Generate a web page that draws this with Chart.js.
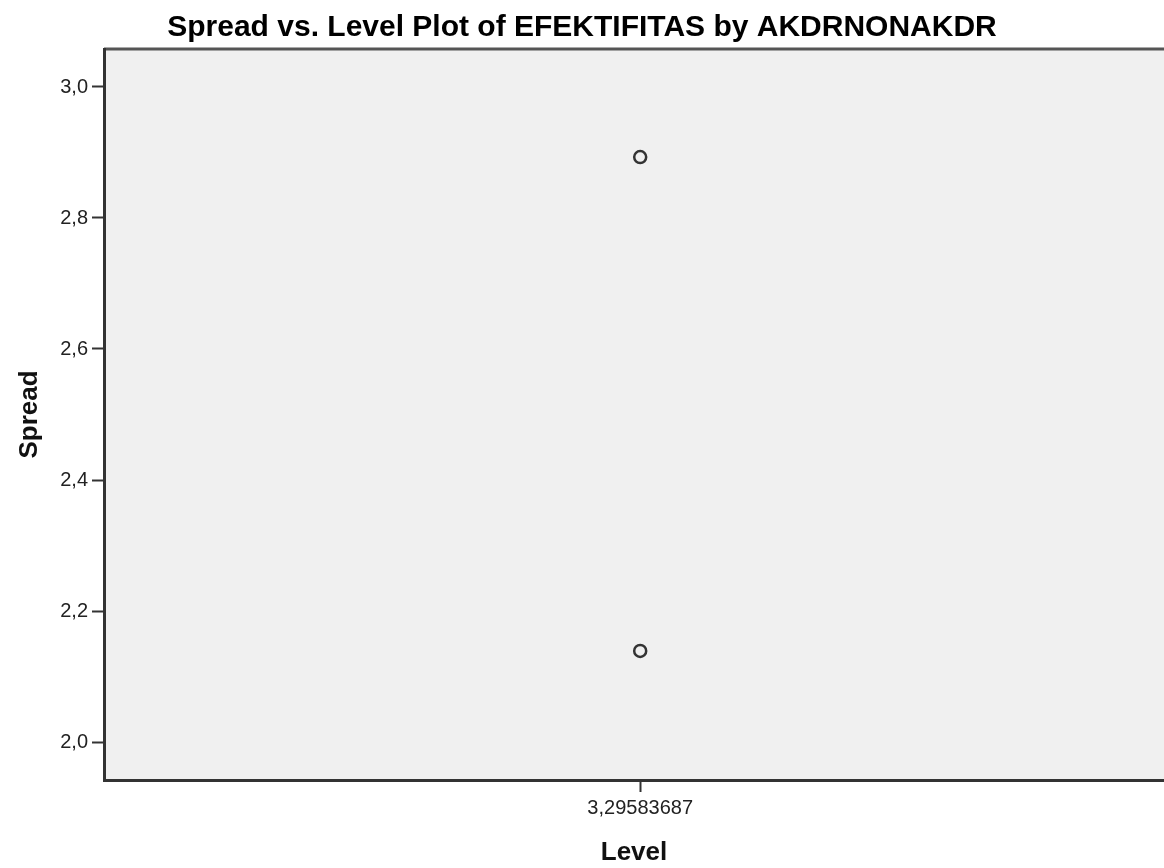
<!DOCTYPE html>
<html>
<head>
<meta charset="utf-8">
<script src="https://cdn.jsdelivr.net/npm/chart.js@4/dist/chart.umd.min.js"></script>
<style>
  html, body { margin: 0; padding: 0; background: #fff; overflow: hidden; }
  canvas { display: block; }
</style>
</head>
<body>
<canvas id="spread-level-chart" width="1164" height="868"></canvas>
<script>
const levels = [3.29583687, 3.29583687];
const spreads = [2.893, 2.139];
const yTicks = [2.0, 2.2, 2.4, 2.6, 2.8, 3.0];
const xTicks = [3.29583687];

const plotFrame = {
  id: 'plotFrame',
  beforeDraw(chart) {
    const { ctx, chartArea: a } = chart;
    ctx.save();
    ctx.fillStyle = '#f0f0f0';
    ctx.fillRect(a.left, a.top, a.right - a.left, a.bottom - a.top);
    ctx.strokeStyle = '#555';
    ctx.lineWidth = 3;
    ctx.beginPath();
    ctx.moveTo(a.left, a.top);
    ctx.lineTo(a.right, a.top);
    ctx.stroke();
    ctx.restore();
  }
};

const comma = (v, d) => Number(v).toFixed(d).replace('.', ',');
const noPad = s => { s.paddingLeft = 0; s.paddingRight = 0; s.paddingTop = 0; s.paddingBottom = 0; };

new Chart(document.getElementById('spread-level-chart'), {
  type: 'scatter',
  data: {
    datasets: [{
      data: levels.map((x, i) => ({ x: x, y: spreads[i] })),
      pointStyle: 'circle',
      pointRadius: 6,
      pointBorderWidth: 2.5,
      pointBorderColor: '#333',
      pointBackgroundColor: 'rgba(0,0,0,0)'
    }]
  },
  options: {
    responsive: false,
    animation: false,
    devicePixelRatio: 1,
    layout: { padding: 0, autoPadding: false },
    plugins: {
      legend: { display: false },
      tooltip: { enabled: false },
      title: {
        display: true,
        text: 'Spread vs. Level Plot of EFEKTIFITAS by AKDRNONAKDR',
        color: '#000',
        font: { family: 'Liberation Sans, Arial, sans-serif', size: 30, weight: 'bold' },
        padding: { top: 10, bottom: 3 }
      }
    },
    scales: {
      x: {
        type: 'linear',
        min: 3.245,
        max: 3.3455,
        afterBuildTicks: s => { s.ticks = xTicks.map(v => ({ value: v })); },
        afterFit: s => { s.height = 88; noPad(s); },
        grid: { drawOnChartArea: false, drawTicks: true, tickLength: 12, tickWidth: 2, tickColor: '#333' },
        border: { display: true, color: '#333', width: 3 },
        ticks: {
          color: '#222',
          padding: 4,
          font: { family: 'Liberation Sans, Arial, sans-serif', size: 20 },
          callback: v => comma(v, 8)
        },
        title: {
          display: true,
          text: 'Level',
          color: '#111',
          font: { family: 'Liberation Sans, Arial, sans-serif', size: 26, weight: 'bold' },
          padding: { top: 0, bottom: 0 }
        }
      },
      y: {
        min: 1.942,
        max: 3.058,
        afterBuildTicks: s => { s.ticks = yTicks.map(v => ({ value: v })); },
        afterFit: s => { s.width = 104; noPad(s); },
        grid: { drawOnChartArea: false, drawTicks: true, tickLength: 12, tickWidth: 2, tickColor: '#333' },
        border: { display: true, color: '#333', width: 3 },
        ticks: {
          color: '#222',
          padding: 4,
          font: { family: 'Liberation Sans, Arial, sans-serif', size: 20 },
          callback: v => comma(v, 1)
        },
        title: {
          display: true,
          text: 'Spread',
          color: '#111',
          font: { family: 'Liberation Sans, Arial, sans-serif', size: 26, weight: 'bold' },
          padding: { top: 14, bottom: 0 }
        }
      }
    }
  },
  plugins: [plotFrame]
});
</script>
</body>
</html>
